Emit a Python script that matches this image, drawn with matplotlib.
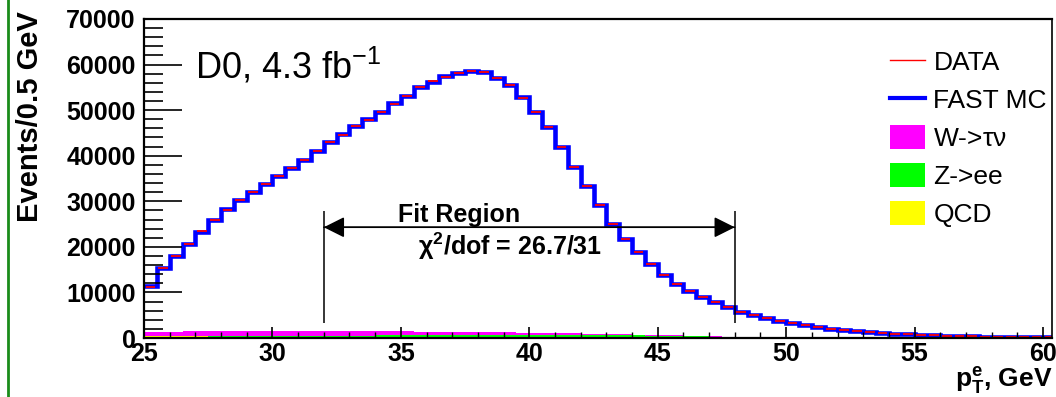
import matplotlib
matplotlib.use("Agg")
import matplotlib.pyplot as plt
from matplotlib.lines import Line2D
from matplotlib.patches import Patch
import numpy as np

plt.rcParams['font.family'] = ['Liberation Sans', 'DejaVu Sans']
plt.rcParams['mathtext.fontset'] = 'custom'
plt.rcParams['mathtext.rm'] = 'Liberation Sans'
plt.rcParams['mathtext.it'] = 'Liberation Sans'
plt.rcParams['mathtext.bf'] = 'Liberation Sans:bold'

# ---- data (bins of 0.5 GeV starting at 25 GeV) ----
bin_lo = 25.0
bin_width = 0.5
data_counts = [11300, 15300, 18000, 20600, 23400, 25900, 28100, 30300, 32000, 33800,
               35500, 37400, 39100, 41100, 43000, 44600, 46600, 47900, 49700, 51400,
               53200, 55000, 56300, 57300, 58200, 58500, 58400, 57100, 55600, 52700,
               49600, 46200, 42000, 37600, 33400, 29100, 25100, 21800, 18900, 16200,
               13800, 11900, 10300, 8900, 7800, 6700, 5800, 5050, 4300, 3700,
               3200, 2800, 2350, 2000, 1700, 1450, 1250, 1050, 900, 780,
               660, 560, 480, 410, 350, 300, 260, 220, 190, 160, 140]
fastmc_counts = [11400, 15400, 18100, 20700, 23300, 25900, 28200, 30200, 32100, 33800,
                 35600, 37400, 39000, 41100, 43000, 44700, 46500, 48000, 49700, 51500,
                 53200, 55000, 56200, 57400, 58200, 58600, 58300, 57100, 55500, 52800,
                 49600, 46300, 41900, 37500, 33400, 29200, 25100, 21800, 18900, 16200,
                 13800, 11900, 10300, 8900, 7800, 6700, 5800, 5050, 4300, 3700,
                 3200, 2800, 2350, 2000, 1700, 1450, 1250, 1050, 900, 780,
                 660, 560, 480, 410, 350, 300, 260, 220, 190, 160, 140]
qcd_counts = [350, 345, 340, 336, 330, 326, 320, 316, 310, 305,
              300, 296, 290, 285, 280, 276, 270, 265, 260, 256,
              250, 245, 240, 236, 230, 225, 220, 216, 210, 205,
              200, 195, 190, 186, 180, 175, 170, 165, 160, 155,
              150, 145, 140, 135, 130, 125, 120, 115, 110, 105,
              100, 96, 92, 88, 84, 80, 76, 72, 68, 64,
              60, 57, 54, 51, 48, 45, 42, 39, 36, 33, 30]
zee_counts = [60, 70, 80, 90, 100, 110, 120, 130, 140, 150,
              160, 175, 190, 205, 220, 240, 260, 280, 300, 320,
              340, 360, 380, 400, 420, 440, 460, 480, 490, 500,
              510, 515, 520, 515, 505, 490, 470, 440, 410, 380,
              350, 300, 250, 200, 160, 130, 100, 80, 60, 50,
              40, 34, 28, 24, 20, 17, 14, 12, 10, 8,
              7, 6, 5, 4, 4, 3, 3, 2, 2, 2, 2]
wtaunu_counts = [900, 950, 1000, 1030, 1060, 1090, 1100, 1110, 1120, 1120,
                 1110, 1100, 1080, 1060, 1040, 1010, 980, 950, 920, 890,
                 860, 820, 780, 740, 700, 660, 620, 580, 540, 500,
                 460, 420, 380, 340, 300, 260, 230, 200, 170, 150,
                 130, 110, 95, 80, 70, 60, 50, 42, 36, 30,
                 25, 21, 18, 15, 13, 11, 9, 8, 7, 6,
                 5, 4, 4, 3, 3, 2, 2, 2, 1, 1, 1]
fit_lo, fit_hi = 32.0, 48.0
chi2_text = r'$\mathbf{\chi^{2}}$/dof = 26.7/31'
x_ticks = [25, 30, 35, 40, 45, 50, 55, 60]
y_ticks = [0, 10000, 20000, 30000, 40000, 50000, 60000, 70000]

# ---- figure ----
fig = plt.figure(figsize=(10.56, 3.97), dpi=100)
ax = fig.add_axes([144/1056, 1-338/397, (1052-144)/1056, (338-19)/397])

n = len(data_counts)
edges = bin_lo + bin_width*np.arange(n+1)
data = np.array(data_counts, float)
mc = np.array(fastmc_counts, float)
qcd = np.array(qcd_counts, float)
zee = np.array(zee_counts, float)
wtn = np.array(wtaunu_counts, float)

ax.stairs(qcd + zee + wtn, edges, fill=True, color='#ff00ff', lw=0)
ax.stairs(qcd + zee, edges, fill=True, color='#00ff00', lw=0)
ax.stairs(qcd, edges, fill=True, color='#ffff00', lw=0)

ax.stairs(mc, edges, baseline=None, color='#0000ff', lw=3.3)
ax.hlines(data, edges[:-1] + 0.06, edges[1:] - 0.06, color='#ff0000', lw=1.3)

# fit region
y_top, y_bot, y_arrow = 27800, 3300, 24300
ax.vlines([fit_lo, fit_hi], y_bot, y_top, color='black', lw=1.1)
for a, b in [(fit_lo, fit_hi), (fit_hi, fit_lo)]:
    ax.annotate('', xy=(a, y_arrow), xytext=(b, y_arrow),
                arrowprops=dict(arrowstyle='-|>,head_length=0.8,head_width=0.4',
                                color='black', lw=1.1, shrinkA=0, shrinkB=0,
                                mutation_scale=16))
ax.text(37.28, 25400, 'Fit Region', fontsize=18, fontweight='bold',
        ha='center', va='baseline')
ax.text(39.26, 18300, chi2_text, fontsize=18, fontweight='bold',
        ha='center', va='baseline')

ax.text(27.0, 57000, r'D0, 4.3 fb$^{\mathregular{-1}}$', fontsize=26,
        ha='left', va='baseline')

ax.set_xlim(25, 60.35)
ax.set_ylim(0, 70000)
ax.set_xticks(x_ticks)
ax.set_xticklabels([str(t) for t in x_ticks])
ax.set_yticks(y_ticks)
ax.set_yticklabels([str(t) for t in y_ticks])
ax.set_xticks(np.arange(25, 61, 1), minor=True)
ax.set_yticks(np.arange(0, 70001, 2000), minor=True)
ax.tick_params(axis='both', which='both', direction='in', top=False, right=False)
ax.tick_params(axis='y', which='major', length=27, width=1.2, pad=6)
ax.tick_params(axis='y', which='minor', length=14, width=1.2)
ax.tick_params(axis='x', which='major', length=8, width=1.2, pad=3)
ax.tick_params(axis='x', which='minor', length=4, width=1.0)
for lab in ax.get_xticklabels() + ax.get_yticklabels():
    lab.set_fontweight('bold')
    lab.set_fontsize(18)
for s in ['left', 'bottom', 'top']:
    ax.spines[s].set_linewidth(1.6)
ax.spines['right'].set_linewidth(1.2)

# legend
handles = [Line2D([], [], color='#ff0000', lw=1.0),
           Line2D([], [], color='#0000ff', lw=3.0),
           Patch(facecolor='#ff00ff', edgecolor='none'),
           Patch(facecolor='#00ff00', edgecolor='none'),
           Patch(facecolor='#ffff00', edgecolor='none')]
labels = ['DATA', 'FAST MC', r'W->$\mathregular{\tau\nu}$', 'Z->ee', 'QCD']
leg = ax.legend(handles, labels, loc='upper left', bbox_to_anchor=(0.822, 0.906),
                frameon=False, fontsize=19, handlelength=1.33, handleheight=1.06,
                handletextpad=0.3, labelspacing=0.44, borderaxespad=0,
                borderpad=0)

fig.text(30/1056, 1-117/397, 'Events/0.5 GeV', rotation=90, fontsize=21,
         fontweight='bold', ha='center', va='center')
fig.text(1053/1056, 1-396/397, r'$\mathbf{p_{T}^{e}}$, GeV', fontsize=19,
         fontweight='bold', ha='right', va='bottom')

# green slide border at the far left
fig.add_artist(Line2D([8/1056, 8/1056], [0, 1], color='#1a8c1a', lw=2.0,
                      transform=fig.transFigure))

fig.savefig('out.png', dpi=100)
